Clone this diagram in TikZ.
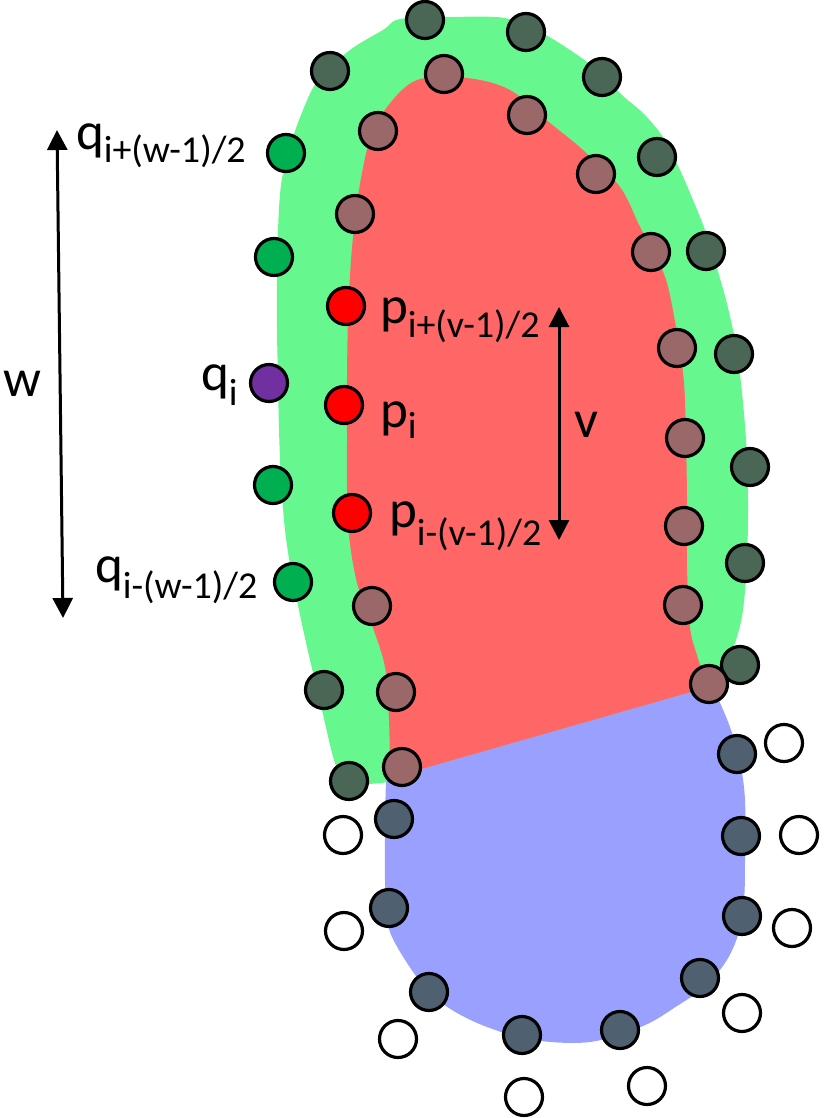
\documentclass[tikz,border=0pt]{standalone}
\usepackage{fontspec}
\setmainfont{Carlito}
\usetikzlibrary{arrows.meta}
\definecolor{gfill}{RGB}{102,247,143}
\definecolor{rfill}{RGB}{255,102,102}
\definecolor{bfill}{RGB}{153,160,253}
\definecolor{dkcol}{RGB}{74,102,85}
\definecolor{brcol}{RGB}{154,104,104}
\definecolor{rdcol}{RGB}{255,0,0}
\definecolor{gncol}{RGB}{0,176,80}
\definecolor{pucol}{RGB}{112,48,160}
\definecolor{bgcol}{RGB}{79,97,112}
\newcommand{\mylbl}[3]{{\fontsize{53}{62}\selectfont #1}\raisebox{-#3pt}{\fontsize{38}{45}\selectfont #2}}
\tikzset{
  dot/.style={circle,draw=black,line width=3.2pt,minimum size=37pt,inner sep=0pt},
  dk/.style={dot,fill=dkcol},
  br/.style={dot,fill=brcol},
  rd/.style={dot,fill=rdcol},
  gn/.style={dot,fill=gncol},
  pu/.style={dot,fill=pucol},
  bg/.style={dot,fill=bgcol},
  wh/.style={dot,fill=white},
  lbl/.style={anchor=base west,inner sep=0pt,outer sep=0pt},
  dimarrow/.style={line width=3pt,{Triangle[width=20pt,length=20pt]}-{Triangle[width=20pt,length=20pt]}}
}
\begin{document}
\begin{tikzpicture}[x=1pt,y=-1pt]
\useasboundingbox (0,0) rectangle (832,1118);
% green band
\fill[gfill] plot[smooth cycle,tension=0.55] coordinates {
 (400,19) (450,17) (505,18) (540,32) (570,50) (600,72) (622,95) (645,115) (665,140)
 (680,170) (693,200) (705,230) (716,265) (726,300) (735,340) (741,383) (746,440)
 (748,500) (747,560) (743,610) (736,640) (727,662) (716,686) (600,725) (450,765)
 (392,781) (365,784) (345,783) (334,760) (322,710) (310,660) (300,615) (291,570)
 (285,530) (281,480) (279,430) (278,380) (277,330) (277,280) (278,230) (281,185)
 (289,150) (301,115) (318,80) (350,50) (383,30)};
% blue region
\fill[bfill] (390,778) -- plot[smooth,tension=0.55] coordinates {
 (712,686) (721,705) (731,730) (740,762) (745,800) (745,860) (744,900) (738,935)
 (725,963) (703,988) (677,1006) (643,1026) (590,1042) (533,1040) (487,1027)
 (452,1010) (427,990) (402,955) (388,925) (385,880) (385,820) (386,782)} -- cycle;
% red region
\fill[rfill] (390,778) -- (712,686) -- plot[smooth,tension=0.55] coordinates {
 (712,686) (703,672) (696,652) (690,627) (687,567) (687,500) (686,440) (684,383)
 (677,333) (667,283) (655,255) (640,227) (620,187) (583,150) (550,123) (510,90)
 (467,78) (417,80) (387,107) (370,140) (362,173) (356,210) (351,260) (348,320)
 (347,380) (347,440) (347,490) (349,535) (357,583) (372,625) (385,667) (389,720)
 (390,778)} -- cycle;
% dimension arrows
\coordinate (wtop) at (57,130);
\coordinate (wbot) at (63,618);
\draw[dimarrow] (wtop) -- (wbot);
\coordinate (vtop) at (559,307);
\coordinate (vbot) at (559,540);
\draw[dimarrow] (vtop) -- (vbot);
% labels
\node[lbl] (lw) at (4,396) {\fontsize{53}{62}\selectfont w};
\node[lbl] (lv) at (574,437) {\fontsize{53}{62}\selectfont v};
\node[lbl] (lqt) at (76,150) {\mylbl{q}{i+(w-1)/2}{13}};
\node[lbl] (lqi) at (201,390) {\mylbl{q}{i}{15}};
\node[lbl] (lqb) at (95,582) {\mylbl{q}{i-(w-1)/2}{16}};
\node[lbl] (lpt) at (380,323) {\mylbl{p}{i+(v-1)/2}{14}};
\node[lbl] (lpi) at (380,427) {\mylbl{p}{i}{11}};
\node[lbl] (lpb) at (389,527) {\mylbl{p}{i-(v-1)/2}{18}};
% dark green circles
\foreach \x/\y [count=\i] in {425/20,526/32,330/71,602/77,657/157,706/251,734/354,750/467,745/563,740/665,324/690,349/781}
  \node[dk] (dk\i) at (\x,\y) {};
% brown circles
\foreach \x/\y [count=\i] in {444/74,527/115,378/131,596/174,355/214,651/252,677/348,685/438,684/526,683/605,709/684,372/606,396/692,402/767}
  \node[br] (br\i) at (\x,\y) {};
% red circles
\node[rd] (pt) at (346,306) {};
\node[rd] (pi) at (344,405) {};
\node[rd] (pb) at (352,513) {};
% purple
\node[pu] (qi) at (269,383) {};
% green circles
\node[gn] (qt) at (286,153) {};
\node[gn] (q2) at (274,257) {};
\node[gn] (q3) at (273,485) {};
\node[gn] (qb) at (293,582) {};
% blue-gray circles
\foreach \x/\y [count=\i] in {737/754,394/819,741/836,389/908,742/916,700/978,429/992,522/1035,620/1030}
  \node[bg] (bg\i) at (\x,\y) {};
% white circles
\foreach \x/\y [count=\i] in {784/743,343/835,799/835,344/931,792/928,398/1039,742/1013,524/1097,647/1086}
  \node[wh] (wh\i) at (\x,\y) {};
\end{tikzpicture}
\end{document}
